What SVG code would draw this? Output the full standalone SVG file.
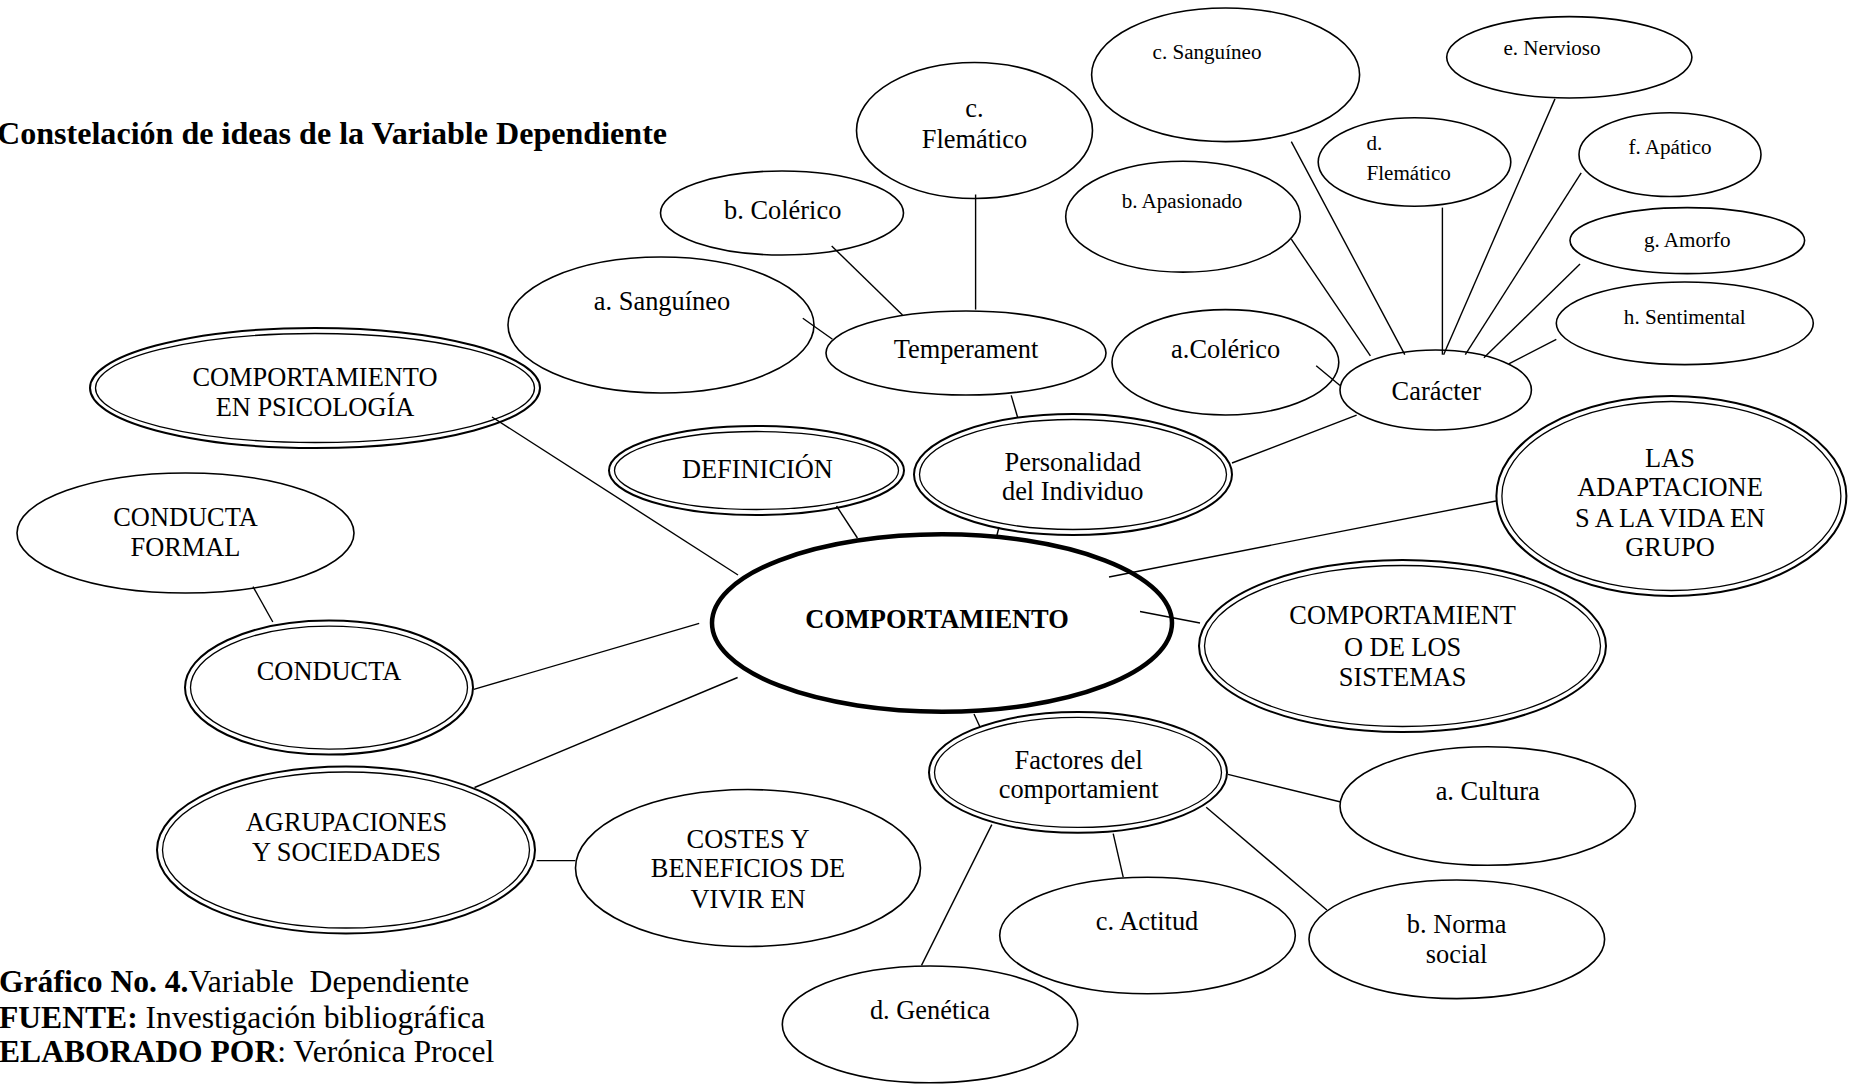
<svg xmlns="http://www.w3.org/2000/svg" width="1854" height="1084" viewBox="0 0 1854 1084">
<style>
.e{fill:#fff;stroke:#000;stroke-width:1.6}
.o{fill:#fff;stroke:#000;stroke-width:2}
.i{fill:none;stroke:#000;stroke-width:1.3}
.c{fill:none;stroke:#000;stroke-width:4.5}
.t{font-family:"Liberation Serif","Times New Roman",serif;font-size:26.4px;fill:#000;text-anchor:middle}
.s{font-family:"Liberation Serif","Times New Roman",serif;font-size:21.1px;fill:#000;text-anchor:middle}
.b{font-family:"Liberation Serif","Times New Roman",serif;font-size:31.6px;fill:#000}
#links line{stroke:#000;stroke-width:1.4}
</style>
<rect width="1854" height="1084" fill="#fff"/>
<text class="b" x="-3" y="144" font-weight="bold" style="font-size:32.1px">Constelación de ideas de la Variable Dependiente</text>

<g id="n-psicologia"><ellipse class="o" cx="315" cy="388" rx="225" ry="60"/><ellipse class="i" cx="315" cy="388" rx="219.5" ry="54.5"/>
<text class="t" x="315" y="385.5">COMPORTAMIENTO</text><text class="t" x="315" y="416">EN PSICOLOGÍA</text></g>

<g id="n-conducta-formal"><ellipse class="e" cx="185.5" cy="533" rx="168.5" ry="60"/>
<text class="t" x="185.5" y="526">CONDUCTA</text><text class="t" x="185.5" y="556">FORMAL</text></g>

<g id="n-conducta"><ellipse class="o" cx="329" cy="687.6" rx="144" ry="67"/><ellipse class="i" cx="329" cy="687.6" rx="138.5" ry="61.5"/>
<text class="t" x="329" y="679.5">CONDUCTA</text></g>

<g id="n-agrupaciones"><ellipse class="o" cx="346" cy="850" rx="189" ry="83.5"/><ellipse class="i" cx="346" cy="850" rx="183.5" ry="78"/>
<text class="t" x="346.5" y="830.6">AGRUPACIONES</text><text class="t" x="346.5" y="860.6">Y SOCIEDADES</text></g>

<g id="n-costes"><ellipse class="e" cx="748" cy="868" rx="172.5" ry="78.5"/>
<text class="t" x="748" y="847.5">COSTES Y</text><text class="t" x="748" y="877.2">BENEFICIOS DE</text><text class="t" x="748" y="907.6">VIVIR EN</text></g>

<g id="n-a-sanguineo"><ellipse class="e" cx="661" cy="325" rx="153" ry="68"/>
<text class="t" x="662" y="310.4">a. Sanguíneo</text></g>

<g id="n-b-colerico"><ellipse class="e" cx="782" cy="213" rx="121.5" ry="42"/>
<text class="t" x="782.7" y="218.7">b. Colérico</text></g>

<g id="n-c-flematico"><ellipse class="e" cx="974.5" cy="130.5" rx="118" ry="68"/>
<text class="t" x="974.5" y="117.4">c.</text><text class="t" x="974.5" y="148.3">Flemático</text></g>

<g id="n-temperament"><ellipse class="e" cx="966" cy="353" rx="140" ry="42"/>
<text class="t" x="966" y="358">Temperament</text></g>

<g id="n-definicion"><ellipse class="o" cx="756.5" cy="470.5" rx="147.5" ry="44.5"/><ellipse class="i" cx="756.5" cy="470.5" rx="142" ry="39"/>
<text class="t" x="757.4" y="477.7">DEFINICIÓN</text></g>

<g id="n-personalidad"><ellipse class="o" cx="1073" cy="474.5" rx="159" ry="60.5"/><ellipse class="i" cx="1073" cy="474.5" rx="153.5" ry="55"/>
<text class="t" x="1072.7" y="470.5">Personalidad</text><text class="t" x="1072.7" y="500.2">del Individuo</text></g>

<g id="n-central"><ellipse class="c" cx="942" cy="623" rx="230" ry="88.7"/>
<text class="t" x="937" y="628" font-weight="bold">COMPORTAMIENTO</text></g>

<g id="n-c-sanguineo"><ellipse class="e" cx="1225.6" cy="74.8" rx="134" ry="66.8"/>
<text class="s" x="1207" y="59.3">c. Sanguíneo</text></g>

<g id="n-b-apasionado"><ellipse class="e" cx="1183" cy="216.7" rx="117.3" ry="55.4"/>
<text class="s" x="1182" y="208.4">b. Apasionado</text></g>

<g id="n-a-colerico"><ellipse class="e" cx="1225.4" cy="362.3" rx="113.4" ry="52.7"/>
<text class="t" x="1225.7" y="357.8">a.Colérico</text></g>

<g id="n-d-flematico"><ellipse class="e" cx="1414.5" cy="162" rx="96.3" ry="44.3"/>
<text class="s" x="1366.5" y="150.2" style="text-anchor:start">d.</text><text class="s" x="1366.5" y="180" style="text-anchor:start">Flemático</text></g>

<g id="n-e-nervioso"><ellipse class="e" cx="1569.3" cy="57.3" rx="122.6" ry="40.7"/>
<text class="s" x="1552" y="55.4">e. Nervioso</text></g>

<g id="n-f-apatico"><ellipse class="e" cx="1670" cy="154.6" rx="91" ry="41.9"/>
<text class="s" x="1670" y="154.2">f. Apático</text></g>

<g id="n-g-amorfo"><ellipse class="e" cx="1687.3" cy="240.6" rx="117.3" ry="33"/>
<text class="s" x="1687.3" y="247.1">g. Amorfo</text></g>

<g id="n-h-sentimental"><ellipse class="e" cx="1684.8" cy="323.3" rx="128.5" ry="41.3"/>
<text class="s" x="1684.8" y="324.2">h. Sentimental</text></g>

<g id="n-caracter"><ellipse class="e" cx="1435.7" cy="390" rx="95.7" ry="40"/>
<text class="t" x="1436.3" y="400">Carácter</text></g>

<g id="n-adaptaciones"><ellipse class="o" cx="1671.4" cy="496" rx="175" ry="100"/><ellipse class="i" cx="1671.4" cy="496" rx="169.5" ry="94.5"/>
<text class="t" x="1670" y="466.6">LAS</text><text class="t" x="1670" y="496.2">ADAPTACIONE</text><text class="t" x="1670" y="526.7">S A LA VIDA EN</text><text class="t" x="1670" y="555.5">GRUPO</text></g>

<g id="n-sistemas"><ellipse class="o" cx="1402.5" cy="646" rx="203.5" ry="86"/><ellipse class="i" cx="1402.5" cy="646" rx="198" ry="80.5"/>
<text class="t" x="1402.6" y="624">COMPORTAMIENT</text><text class="t" x="1402.6" y="655.8">O DE LOS</text><text class="t" x="1402.6" y="686.2">SISTEMAS</text></g>

<g id="n-factores"><ellipse class="o" cx="1078" cy="772.4" rx="149" ry="60.4"/><ellipse class="i" cx="1078" cy="772.4" rx="143.5" ry="55"/>
<text class="t" x="1078.6" y="768.5">Factores del</text><text class="t" x="1078.6" y="798">comportamient</text></g>

<g id="n-a-cultura"><ellipse class="e" cx="1487.7" cy="806" rx="147.7" ry="59.3"/>
<text class="t" x="1487.7" y="800">a. Cultura</text></g>

<g id="n-b-norma"><ellipse class="e" cx="1456.8" cy="939.3" rx="147.8" ry="59.3"/>
<text class="t" x="1456.6" y="932.6">b. Norma</text><text class="t" x="1456.6" y="963">social</text></g>

<g id="n-c-actitud"><ellipse class="e" cx="1147.5" cy="935.5" rx="147.8" ry="58.3"/>
<text class="t" x="1147" y="929.8">c. Actitud</text></g>

<g id="n-d-genetica"><ellipse class="e" cx="930" cy="1024.4" rx="147.7" ry="58.4"/>
<text class="t" x="930" y="1018.8">d. Genética</text></g>

<g id="links">
<line x1="492" y1="417" x2="738" y2="575"/>
<line x1="836.5" y1="506" x2="857.4" y2="538"/>
<line x1="999" y1="527" x2="996.5" y2="537"/>
<line x1="1109" y1="577" x2="1496" y2="501"/>
<line x1="1140" y1="611.5" x2="1200" y2="623"/>
<line x1="974" y1="714" x2="980" y2="727"/>
<line x1="473.7" y1="689.4" x2="699.2" y2="623.4"/>
<line x1="474.5" y1="787.5" x2="737.6" y2="677.5"/>
<line x1="536.6" y1="860.6" x2="575.3" y2="860.6"/>
<line x1="253" y1="586.6" x2="272.8" y2="622"/>
<line x1="802.8" y1="318.3" x2="832.5" y2="339.3"/>
<line x1="831.7" y1="246" x2="902.5" y2="315"/>
<line x1="975.6" y1="194.5" x2="975.6" y2="309.6"/>
<line x1="1011.2" y1="395.4" x2="1017.6" y2="417.2"/>
<line x1="1232" y1="463" x2="1356.6" y2="415.2"/>
<line x1="1316.2" y1="365.8" x2="1340" y2="385.5"/>
<line x1="1291.3" y1="239.2" x2="1370.4" y2="355.9"/>
<line x1="1291.3" y1="141.6" x2="1404.8" y2="354.7"/>
<line x1="1442.4" y1="207.6" x2="1442.4" y2="354.7"/>
<line x1="1555" y1="98.9" x2="1443.6" y2="354.7"/>
<line x1="1581.2" y1="172.8" x2="1465.3" y2="354.7"/>
<line x1="1580" y1="264" x2="1483.9" y2="357.8"/>
<line x1="1556.3" y1="339.3" x2="1508.8" y2="363.8"/>
<line x1="1228" y1="774.4" x2="1340.8" y2="802"/>
<line x1="1206.2" y1="807.2" x2="1326.9" y2="910"/>
<line x1="1113.2" y1="833.7" x2="1123.2" y2="877.2"/>
<line x1="991.8" y1="824.6" x2="921.5" y2="965.4"/>
</g>

<text class="b" x="-1" y="992"><tspan font-weight="bold">Gráfico No. 4.</tspan>Variable&#160; Dependiente</text>
<text class="b" x="-1" y="1027.5"><tspan font-weight="bold">FUENTE:</tspan> Investigación bibliográfica</text>
<text class="b" x="-1" y="1062"><tspan font-weight="bold">ELABORADO POR</tspan>: Verónica Procel</text>
</svg>
